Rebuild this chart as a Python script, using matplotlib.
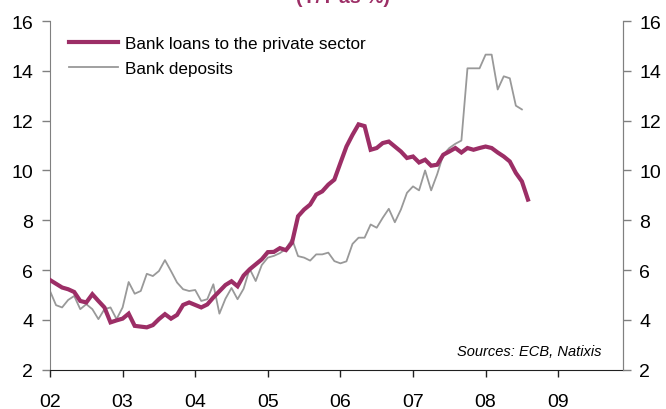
import matplotlib
matplotlib.use("Agg")
import matplotlib.pyplot as plt
import numpy as np

plt.rcParams['font.family'] = ['Liberation Sans', 'DejaVu Sans']

# monthly Y/Y growth, Jan 2002 onwards
loans = [5.6, 5.45, 5.3, 5.23, 5.12, 4.76, 4.7, 5.03, 4.76, 4.5,
         3.9, 3.98, 4.05, 4.25, 3.76, 3.73, 3.7, 3.79, 4.03, 4.23,
         4.05, 4.2, 4.6, 4.7, 4.6, 4.5, 4.62, 4.9, 5.15, 5.4,
         5.55, 5.35, 5.78, 6.03, 6.23, 6.43, 6.72, 6.73, 6.88, 6.8,
         7.1, 8.16, 8.43, 8.63, 9.03, 9.16, 9.43, 9.63, 10.3, 10.96,
         11.43, 11.85, 11.78, 10.83, 10.9, 11.1, 11.16, 10.96, 10.76, 10.5,
         10.56, 10.32, 10.43, 10.19, 10.23, 10.63, 10.76, 10.9, 10.72, 10.9,
         10.83, 10.9, 10.96, 10.9, 10.72, 10.56, 10.36, 9.9, 9.56, 8.83]

deposits = [5.16, 4.59, 4.5, 4.8, 4.96, 4.43, 4.63, 4.43, 4.03, 4.43,
            4.5, 4.03, 4.5, 5.52, 5.05, 5.16, 5.85, 5.76, 5.96, 6.4,
            5.96, 5.5, 5.23, 5.16, 5.2, 4.76, 4.83, 5.43, 4.25, 4.85,
            5.28, 4.83, 5.25, 6.05, 5.56, 6.2, 6.5, 6.57, 6.68, 6.85,
            7.25, 6.56, 6.5, 6.38, 6.63, 6.63, 6.7, 6.36, 6.27, 6.35,
            7.05, 7.3, 7.3, 7.83, 7.7, 8.1, 8.46, 7.92, 8.43, 9.1,
            9.36, 9.2, 10.0, 9.2, 9.85, 10.63, 10.9, 11.07, 11.2, 14.1,
            14.1, 14.1, 14.65, 14.65, 13.25, 13.78, 13.7, 12.6, 12.45]

years = [2002, 2003, 2004, 2005, 2006, 2007, 2008, 2009]
year_labels = ['02', '03', '04', '05', '06', '07', '08', '09']
yticks = [2, 4, 6, 8, 10, 12, 14, 16]

crimson = '#9C2E66'
grey = '#999999'
spine_grey = '#808080'

x_loans = 2002 + np.arange(len(loans)) / 12.0
x_dep = 2002 + np.arange(len(deposits)) / 12.0

fig = plt.figure(figsize=(6.66, 4.10), dpi=100)
ax = fig.add_axes([50 / 666, 1 - 370.7 / 410, 572.7 / 666, 348.7 / 410])

ax.plot(x_loans, loans, color=crimson, lw=3.0, solid_joinstyle='miter',
        label='Bank loans to the private sector', zorder=3)
ax.plot(x_dep, deposits, color=grey, lw=1.3, label='Bank deposits', zorder=2)

ax.set_xlim(2002, 2002 + 572.7 / 72.6)
ax.set_ylim(2, 16)
ax.set_xticks(years)
ax.set_xticklabels(year_labels)
ax.set_yticks(yticks)

ax.spines['top'].set_visible(False)
ax.spines['left'].set_color(spine_grey)
ax.spines['right'].set_color(spine_grey)
ax.spines['bottom'].set_color('#202020')

ax.tick_params(axis='x', direction='out', length=5, width=1, colors='#202020',
               labelsize=14, pad=12, labelcolor='black')
ax.tick_params(axis='y', direction='out', length=6, width=1, colors=spine_grey,
               labelsize=14, pad=6, labelcolor='black')

# same scale repeated on the right
ax2 = ax.twinx()
ax2.set_ylim(2, 16)
ax2.set_yticks(yticks)
ax2.spines['top'].set_visible(False)
ax2.spines['left'].set_visible(False)
ax2.spines['bottom'].set_visible(False)
ax2.spines['right'].set_color(spine_grey)
ax2.tick_params(axis='y', direction='out', length=6, width=1, colors=spine_grey,
                labelsize=14, pad=6, labelcolor='black')

leg = ax.legend(loc='upper left', bbox_to_anchor=(12 / 572.7, 1 - 8 / 348.7),
                frameon=False, fontsize=12.3, handlelength=2.9,
                handletextpad=0.4, labelspacing=0.6, borderaxespad=0)

ax.text(601.7 / 666, 1 - 351.7 / 410, 'Sources: ECB, Natixis', transform=fig.transFigure,
        ha='right', va='center', fontsize=10.5, style='italic')

fig.text(343 / 666, 1 - 7 / 410, '(Y/Y as %)', ha='center', va='bottom',
         color=crimson, fontsize=14, fontweight='bold')

fig.savefig('out.png', dpi=100)
